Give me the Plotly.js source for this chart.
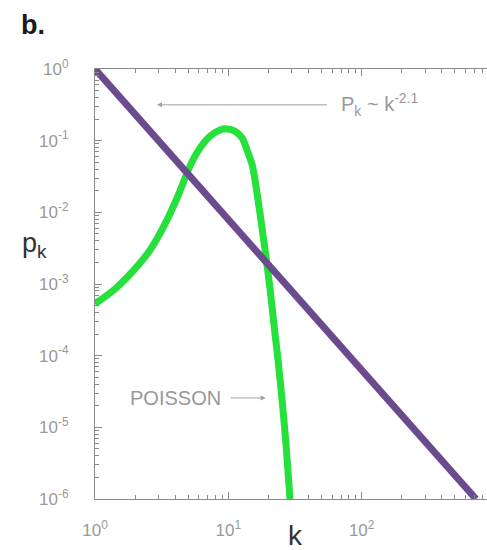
<!DOCTYPE html>
<html>
<head>
<meta charset="utf-8">
<script src="https://cdn.plot.ly/plotly-3.0.1.min.js"></script>
<style>
  html, body { margin: 0; padding: 0; overflow: hidden; background: #fff; }
</style>
</head>
<body>
<div id="chart"></div>
<script>
// power law p_k ~ k^-2.1
const powerK = [1, 720]
const powerP = [1, 1e-6]

// Poisson curve
const poissonK = [1, 1.41, 1.93, 2.59, 3.35, 4.19, 5.16, 6.13, 7.29, 8.66, 9.78, 11.2, 12.7, 13.8, 15.1, 15.85, 16.7, 17.9, 19.2, 20.6, 22.0, 23.6, 25.3, 27.1, 29.0]
const poissonP = [5.3e-4, 8.5e-4, 1.52e-3, 2.99e-3, 6.9e-3, 0.0169, 0.0444, 0.079, 0.116, 0.141, 0.146, 0.136, 0.109, 0.074, 0.0458, 0.0283, 0.0149, 6.05e-3, 2.31e-3, 8.3e-4, 2.69e-4, 8.7e-5, 2.4e-5, 5.7e-6, 1e-6]

const xTickVals = [1, 10, 100, 1000]
const xTickText = ['10<sup>0</sup>', '10<sup>1</sup>', '10<sup>2</sup>', '10<sup>3</sup>']
const yTickVals = [1, 1e-1, 1e-2, 1e-3, 1e-4, 1e-5, 1e-6]
const yTickText = ['10<sup>0</sup>', '10<sup>-1</sup>', '10<sup>-2</sup>', '10<sup>-3</sup>', '10<sup>-4</sup>', '10<sup>-5</sup>', '10<sup>-6</sup>']

const axisGray = '#8a8a8a'
const labelFont = {family: 'Liberation Sans, Arial, sans-serif', size: 17, color: '#999'}

const data = [
    {
        x: poissonK,
        y: poissonP,
        type: 'scatter',
        mode: 'lines',
        line: {color: '#26e03c', width: 7, shape: 'spline', smoothing: 0.8},
        name: 'poisson',
    },
    {
        x: powerK,
        y: powerP,
        type: 'scatter',
        mode: 'lines',
        line: {color: '#6b4b8e', width: 7},
        name: 'power law',
    },
]

const commonAxis = {
    type: 'log',
    showgrid: false,
    zeroline: false,
    showline: true,
    linecolor: axisGray,
    linewidth: 1,
    mirror: 'ticks',
    ticks: 'inside',
    ticklen: 7,
    tickcolor: axisGray,
    tickwidth: 1,
    minor: {ticks: 'inside', ticklen: 4, tickcolor: axisGray, tickwidth: 1, dtick: 'D1', showgrid: false},
    tickfont: labelFont,
}

const layout = {
    width: 500,
    height: 550,
    margin: {l: 95, r: 5, t: 69, b: 51},
    paper_bgcolor: '#fff',
    plot_bgcolor: '#fff',
    showlegend: false,
    xaxis: Object.assign({}, commonAxis, {
        range: [0, 3],
        tickmode: 'array',
        tickvals: xTickVals,
        ticktext: xTickText,
        ticklabelstandoff: 16,
    }),
    yaxis: Object.assign({}, commonAxis, {
        range: [-6, 0],
        tickmode: 'array',
        tickvals: yTickVals,
        ticktext: yTickText,
        ticklabelstandoff: 22,
    }),
    annotations: [
        {
            xref: 'paper', yref: 'paper', x: -0.19, y: 1.103,
            xanchor: 'left', yanchor: 'middle', showarrow: false,
            text: '<b>b.</b>',
            font: {family: 'Liberation Sans, Arial, sans-serif', size: 27, color: '#1a1a1a'},
        },
        {
            xref: 'paper', yref: 'paper', x: -0.152, y: 0.59,
            xanchor: 'center', yanchor: 'middle', showarrow: false,
            text: 'p<sub>k</sub>',
            font: {family: 'Liberation Sans, Arial, sans-serif', size: 27, color: '#333'},
        },
        {
            xref: 'paper', yref: 'paper', x: 0.502, y: -0.085,
            xanchor: 'center', yanchor: 'middle', showarrow: false,
            text: 'k',
            font: {family: 'Liberation Sans, Arial, sans-serif', size: 28, color: '#333'},
        },
        {
            // arrow head sits at k~2.9, p~0.32
            x: 0.465, y: -0.5, xref: 'x', yref: 'y',
            ax: 222, ay: 0,
            text: 'P<sub>k</sub> ~ k<sup>-2.1</sup>',
            font: {family: 'Liberation Sans, Arial, sans-serif', size: 20, color: '#999'},
            showarrow: true, arrowhead: 2, arrowsize: 1, arrowwidth: 1, arrowcolor: '#a0a0a0',
            startstandoff: 12,
        },
        {
            // arrow head next to the falling poisson curve
            x: 1.28, y: -4.59, xref: 'x', yref: 'y',
            ax: -90, ay: 0,
            text: 'POISSON',
            font: {family: 'Liberation Sans, Arial, sans-serif', size: 20, color: '#999'},
            showarrow: true, arrowhead: 2, arrowsize: 1, arrowwidth: 1, arrowcolor: '#a0a0a0',
            startstandoff: 8,
        },
    ],
}

Plotly.newPlot('chart', data, layout, {displayModeBar: false, staticPlot: true})
</script>
</body>
</html>
